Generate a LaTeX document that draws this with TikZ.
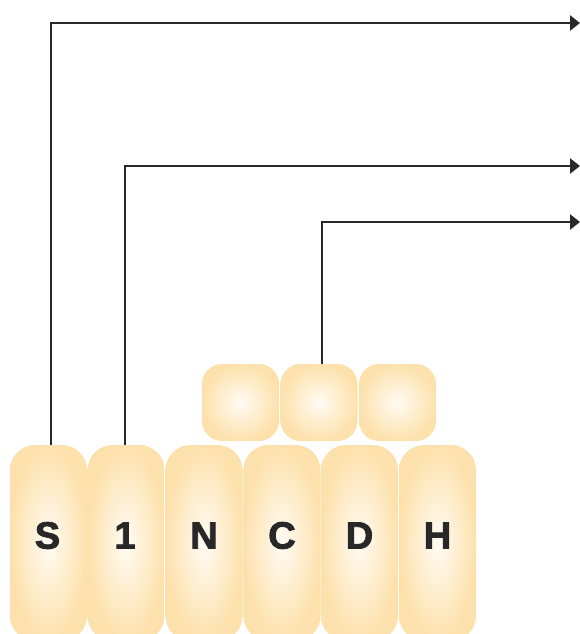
\documentclass[tikz,border=0pt]{standalone}
\usepackage{fontspec}
\setmainfont{Liberation Sans}
\newfontfamily\heavyfont[FakeBold=2.2]{Liberation Sans Bold}
\usetikzlibrary{arrows.meta}
\definecolor{boxouter}{RGB}{253,225,172}
\definecolor{boxinner}{RGB}{255,251,243}
\definecolor{linecol}{RGB}{40,40,40}
\begin{document}
\begin{tikzpicture}[x=1pt,y=-1pt,
  cell/.style={minimum width=77pt, minimum height=196pt, rounded corners=25pt,
    inner color=boxinner, outer color=boxouter, inner sep=0pt},
  topcell/.style={minimum width=77pt, minimum height=77pt, rounded corners=20pt,
    inner color=boxinner, outer color=boxouter, inner sep=0pt},
  letter/.style={font=\heavyfont\fontsize{38}{38}\selectfont, text=linecol, inner sep=0pt},
  link/.style={draw=linecol, line width=2.7pt, -{Triangle[length=10pt,width=15pt]}}]
\useasboundingbox (0,0) rectangle (580,634);
\begin{scope}
\clip (0,0) rectangle (580,634);
\node[cell] (s) at (48.5,543) {};
\node[cell] (n1) at (126,543) {};
\node[cell] (n) at (204,543) {};
\node[cell] (c) at (282,543) {};
\node[cell] (d) at (359.5,543) {};
\node[cell] (h) at (437.5,543) {};
\node[topcell] (t1) at (240.5,402.5) {};
\node[topcell] (t2) at (319,402.5) {};
\node[topcell] (t3) at (397.5,402.5) {};
\end{scope}
\node[letter] (ls) at (47.5,535.5) {S};
\node[letter] (l1) at (125,535.5) {1};
\node[letter] (ln) at (204,535.5) {N};
\node[letter] (lc) at (282,535.5) {C};
\node[letter] (ld) at (359.5,535.5) {D};
\node[letter] (lh) at (437.5,535.5) {H};
\coordinate (e1) at (580,23);
\coordinate (e2) at (580,166);
\coordinate (e3) at (580,222);
\draw[link] ([xshift=2.5pt]s.north) |- (e1);
\draw[link] ([xshift=-1pt]n1.north) |- (e2);
\draw[link] ([xshift=3pt]t2.north) |- (e3);
\end{tikzpicture}
\end{document}
